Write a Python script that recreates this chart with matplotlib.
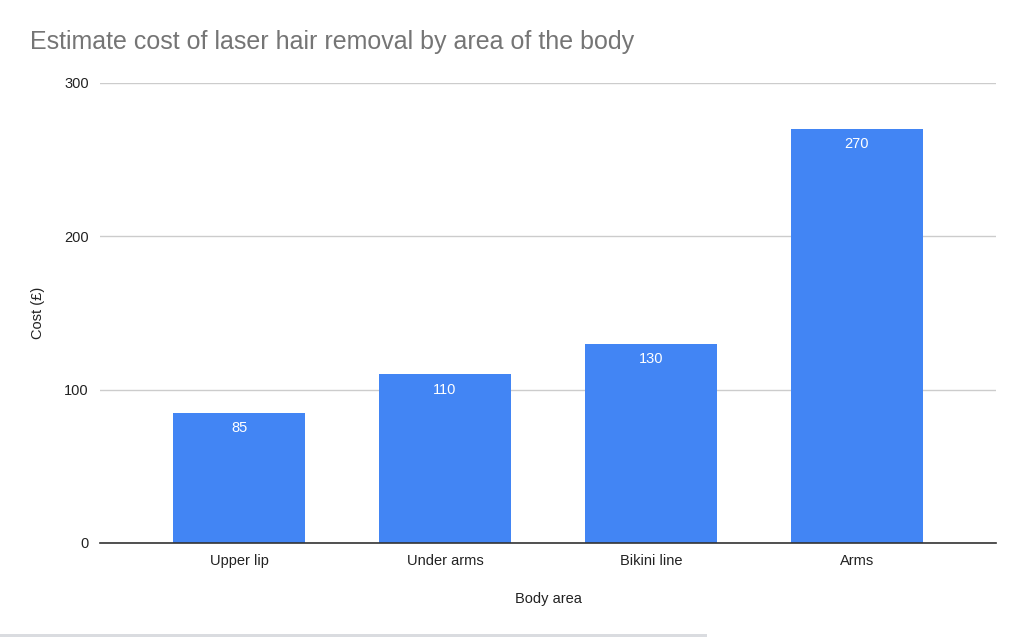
import matplotlib.pyplot as plt
from matplotlib.patches import Rectangle

plt.rcParams['font.family'] = ['Liberation Sans', 'DejaVu Sans']

areas = ['Upper lip', 'Under arms', 'Bikini line', 'Arms']
costs = [85, 110, 130, 270]
yticks = [0, 100, 200, 300]

fig = plt.figure(figsize=(10.26, 6.37), dpi=100)
ax = fig.add_axes([100 / 1026, 1 - 543 / 637, 896 / 1026, 460 / 637])

x = range(len(areas))
bars = ax.bar(x, costs, width=0.645, color='#4285F4', zorder=3)
for b, v in zip(bars, costs):
    ax.annotate(str(v), (b.get_x() + b.get_width() / 2, v), xytext=(0, -6),
                textcoords='offset points', ha='center', va='top',
                color='white', fontsize=10.5, zorder=4)

ax.set_xlim(-0.675, len(areas) - 0.325)
ax.set_ylim(0, 300)
ax.set_yticks(yticks)
ax.set_xticks(list(x))
ax.set_xticklabels(areas)
ax.tick_params(axis='both', length=0, labelsize=10.5, colors='#222222')
ax.tick_params(axis='y', pad=8)
ax.tick_params(axis='x', pad=8)
ax.grid(True, axis='y', color='#cccccc', linewidth=1, zorder=0)
for s in ['top', 'right', 'left']:
    ax.spines[s].set_visible(False)
ax.spines['bottom'].set_color('#333333')
ax.spines['bottom'].set_linewidth(1.2)
ax.spines['bottom'].set_zorder(5)

ax.set_xlabel('Body area', fontsize=10.5, labelpad=17, color='#222222')
ax.set_ylabel('Cost (£)', fontsize=10.5, labelpad=14, color='#222222')

fig.text(30 / 1026, 1 - 42 / 637, 'Estimate cost of laser hair removal by area of the body',
         fontsize=18, color='#757575', va='center', ha='left')

# thin grey strip along the bottom edge
fig.patches.append(Rectangle((0, 0), 707 / 1026, 3 / 637, transform=fig.transFigure,
                             facecolor='#dadce0', edgecolor='none'))

plt.savefig('out.png', dpi=100)
